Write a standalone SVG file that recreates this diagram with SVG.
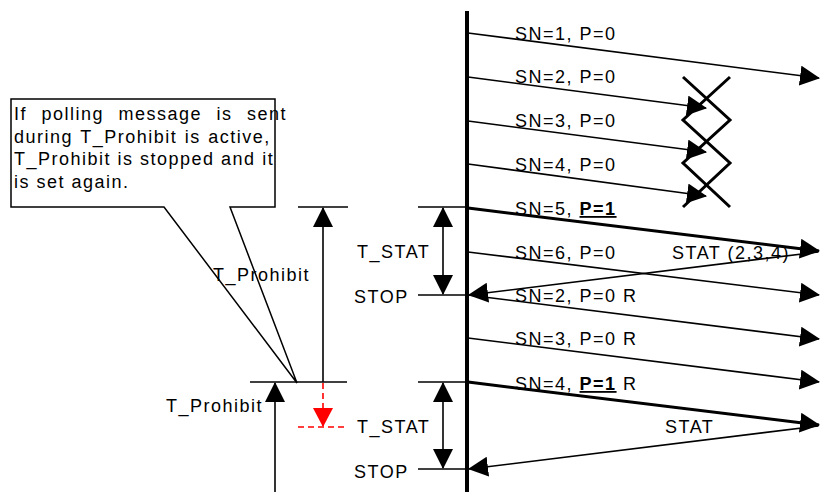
<svg xmlns="http://www.w3.org/2000/svg" width="820" height="492" viewBox="0 0 820 492">
<style>
  text { font-family: "Liberation Sans", Arial, sans-serif; font-size: 18px; letter-spacing: 1.5px; fill: #000; }
  .b { font-weight: bold; text-decoration: underline; }
  .ln { stroke: #000; stroke-width: 1.6; fill: none; }
  .thk { stroke: #000; stroke-width: 3; fill: none; }
  .arr { marker-end: url(#ah); }
  .dbl { marker-start: url(#ah); marker-end: url(#ah); }
  .red { stroke: #ff0000; stroke-width: 1.6; stroke-dasharray: 6 4; fill: none; }
</style>
<defs>
  <marker id="ah" markerUnits="userSpaceOnUse" markerWidth="20" markerHeight="20" refX="19" refY="10" orient="auto-start-reverse" viewBox="0 0 20 20">
    <path d="M0,0 L20,10 L0,20 z" fill="#000"/>
  </marker>
  <marker id="ahr" markerUnits="userSpaceOnUse" markerWidth="19" markerHeight="20" refX="18" refY="10" orient="auto" viewBox="0 0 19 20">
    <path d="M0,0 L19,10 L0,20 z" fill="#ff0000"/>
  </marker>
</defs>
<rect width="820" height="492" fill="#fff"/>

<g id="callout">
  <polygon points="11,99 275,99 275,207 230,207 297,383 164,207 11,207" fill="#fff" stroke="#000" stroke-width="1.5"/>
  <text x="14" y="120" word-spacing="8">If polling message is sent</text>
  <text x="14" y="143" word-spacing="1">during T_Prohibit is active,</text>
  <text x="14" y="165" letter-spacing="1.4">T_Prohibit is stopped and it</text>
  <text x="14" y="188">is set again.</text>
</g>

<g id="lifeline">
  <line x1="467" y1="11" x2="467" y2="492" stroke="#000" stroke-width="4"/>
</g>

<g id="timers">
  <line class="ln" x1="298" y1="207" x2="348" y2="207"/>
  <line class="ln" x1="418" y1="207" x2="466" y2="207"/>
  <line class="ln" x1="418" y1="295" x2="466" y2="295"/>
  <line class="ln" x1="250" y1="382" x2="347" y2="382"/>
  <line class="ln" x1="418" y1="382" x2="466" y2="382"/>
  <line class="ln" x1="418" y1="469" x2="466" y2="469"/>
  <line class="ln arr" x1="323" y1="382" x2="323" y2="208"/>
  <line class="ln dbl" x1="443" y1="208" x2="443" y2="294"/>
  <line class="ln arr" x1="275" y1="492" x2="275" y2="383"/>
  <line class="ln dbl" x1="443" y1="383" x2="443" y2="468"/>
  <line class="red" x1="323" y1="383" x2="323" y2="426" marker-end="url(#ahr)"/>
  <line class="red" x1="298" y1="427" x2="347" y2="427"/>
  <text x="213" y="281">T_Prohibit</text>
  <text x="357" y="258">T_STAT</text>
  <text x="354" y="303">STOP</text>
  <text x="166" y="412">T_Prohibit</text>
  <text x="357" y="433">T_STAT</text>
  <text x="354" y="478">STOP</text>
</g>

<g id="connectors">
  <line class="ln arr" x1="468" y1="33" x2="819" y2="78"/>
  <line class="ln arr" x1="468" y1="77" x2="706" y2="108"/>
  <line class="ln arr" x1="468" y1="121" x2="706" y2="152"/>
  <line class="ln arr" x1="468" y1="164" x2="706" y2="196"/>
  <line class="thk arr" x1="468" y1="208" x2="819" y2="251"/>
  <line class="ln arr" x1="468" y1="252" x2="819" y2="295"/>
  <line class="ln arr" x1="818" y1="252" x2="469" y2="295"/>
  <line class="ln arr" x1="468" y1="295" x2="819" y2="339"/>
  <line class="ln arr" x1="468" y1="338" x2="819" y2="382"/>
  <line class="thk arr" x1="468" y1="382" x2="819" y2="425"/>
  <line class="ln arr" x1="818" y1="426" x2="469" y2="469"/>
</g>

<g id="losses">
  <polyline points="683,77 730,120 683,163 730,207" fill="none" stroke="#000" stroke-width="3"/>
  <polyline points="730,77 683,120 730,163 683,207" fill="none" stroke="#000" stroke-width="3"/>
</g>

<g id="labels">
  <text x="515" y="40">SN=1, P=0</text>
  <text x="515" y="83">SN=2, P=0</text>
  <text x="515" y="127">SN=3, P=0</text>
  <text x="515" y="171">SN=4, P=0</text>
  <text x="515" y="215">SN=5, <tspan class="b">P=1</tspan></text>
  <text x="515" y="259">SN=6, P=0</text>
  <text x="672" y="259">STAT (2,3,4)</text>
  <text x="515" y="302">SN=2, P=0 R</text>
  <text x="515" y="345">SN=3, P=0 R</text>
  <text x="515" y="390">SN=4, <tspan class="b">P=1</tspan> R</text>
  <text x="665" y="433">STAT</text>
</g>
</svg>
